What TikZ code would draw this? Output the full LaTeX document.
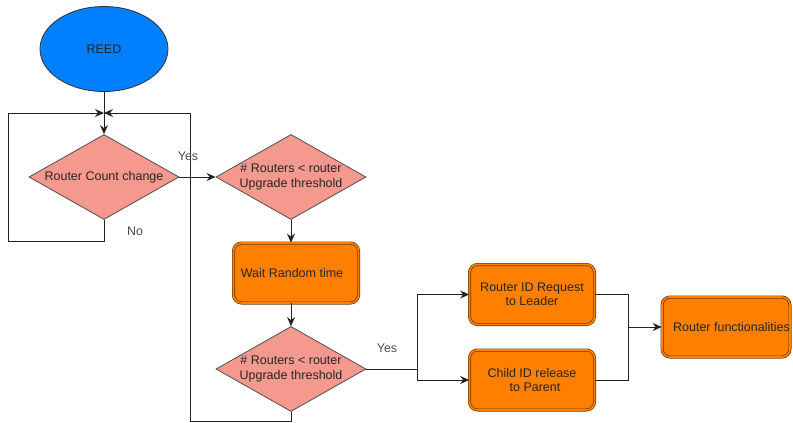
\documentclass[tikz,border=0pt]{standalone}
\usepackage{fontspec}
\setmainfont{Liberation Sans}
\usetikzlibrary{shapes.geometric,arrows.meta}
\definecolor{reedblue}{HTML}{007FFF}
\definecolor{salmon}{HTML}{F5998E}
\definecolor{boxorange}{HTML}{FF8000}
\definecolor{boxedge}{HTML}{6B3A00}
\definecolor{lineg}{HTML}{222222}
\begin{document}
\begin{tikzpicture}[x=1pt,y=-1pt,
  every node/.style={font=\fontsize{12.5}{14.5}\selectfont},
  conn/.style={draw=lineg,line width=0.9pt},
  arr/.style={conn,-{Stealth[length=9pt,width=8pt,inset=3pt]}},
  decision/.style={diamond,draw=lineg!80,fill=salmon,line width=0.8pt,inner sep=0pt,
    minimum width=150pt,minimum height=85pt},
  dtext/.style={align=center,inner sep=0pt,text=black!85},
  stepbox/.style={rectangle,rounded corners=8pt,fill=boxorange,draw=boxedge,
    double=boxorange,double distance=1.6pt,line width=0.7pt,align=center,
    inner sep=0pt,minimum width=125pt,minimum height=60pt,text=black!85},
  lbl/.style={text=black!70,inner sep=0pt}]
\clip (0,0) rectangle (793,423);
\useasboundingbox (0,0) rectangle (793,423);
\fill[white] (0,0) rectangle (793,423);

% start state
\node[ellipse,draw=black!80,fill=reedblue,line width=0.8pt,minimum width=128pt,
  minimum height=85pt,inner sep=0pt,text=black!85] (reed) at (104,49) {REED};

% decisions
\node[decision,label={[dtext]center:Router Count change}] (d1) at (104,177) {};
\node[decision,label={[dtext]center:\# Routers < router\\Upgrade threshold}] (d2) at (291,177) {};
\node[decision,label={[dtext]center:\# Routers < router\\Upgrade threshold}] (d3) at (291,369) {};

% process steps
\node[stepbox] (wait) at (296,273) {Wait Random time\hspace*{8pt}};
\node[stepbox] (rid) at (532,294.5) {Router ID Request\\to Leader};
\node[stepbox] (cid) at (532,380) {Child ID release\\\hspace*{6pt}to Parent};
\node[stepbox,minimum width=128pt] (rf) at (726,327) {\hspace*{11pt}Router functionalities};

% loop junction above the first decision
\coordinate (junc) at (104,113);
\coordinate (nocorner) at (8,241);
\coordinate (yescorner) at (190,421);
\coordinate (split) at (417,369);
\coordinate (merge) at (628,327);

\draw[arr] (reed) -- (d1.north);
\draw[arr] (d1.south) |- (nocorner) |- (junc);
\draw[arr] (d3.south) |- (yescorner) |- (junc);
\draw[arr] (d1.east) -- (d2.west);
\draw[arr] (d2.south) -- (d2.south |- wait.north);
\draw[arr] (wait.south -| d3.north) -- (d3.north);
\draw[conn] (d3.east) -- (split);
\draw[arr] (split) |- (rid.west);
\draw[arr] (split) |- (cid.west);
\draw[conn] (rid.east) -| (merge);
\draw[conn] (cid.east) -| (merge);
\draw[arr] (merge) -- (rf.west);

% branch labels
\node[lbl] (yes1) at (188,156) {Yes};
\node[lbl] (no1) at (135,231) {No};
\node[lbl] (yes2) at (387,348) {Yes};
\end{tikzpicture}
\end{document}
